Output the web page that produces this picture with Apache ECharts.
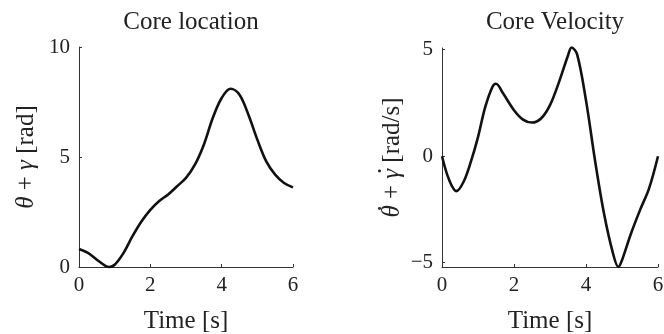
<!DOCTYPE html>
<html>
<head>
<meta charset="utf-8">
<script src="https://cdn.jsdelivr.net/npm/echarts@6/dist/echarts.min.js"></script>
<style>
    html, body { margin: 0; padding: 0; background: #fff; }
    #chart { width: 664px; height: 334px; }
</style>
</head>
<body>
<div id="chart"></div>
<script>
// core location, theta + gamma [rad]
var locTime  = [0, 0.25, 0.5, 0.75, 0.85, 1.0, 1.25, 1.5, 1.75, 2.0, 2.25, 2.5, 2.75, 3.0, 3.25, 3.5, 3.75, 4.0, 4.25, 4.5, 4.75, 5.0, 5.25, 5.5, 5.75, 6.0];
var locValue = [0.82, 0.64, 0.33, 0.04, 0.0, 0.1, 0.64, 1.4, 2.07, 2.6, 3.0, 3.3, 3.67, 4.05, 4.65, 5.56, 6.77, 7.68, 8.1, 7.83, 6.92, 5.79, 4.8, 4.2, 3.82, 3.62];

// core velocity, theta dot + gamma dot [rad/s]
var velTime  = [0, 0.2, 0.4, 0.6, 0.8, 1.0, 1.2, 1.4, 1.5, 1.7, 2.0, 2.25, 2.5, 2.75, 3.0, 3.25, 3.5, 3.6, 3.75, 4.0, 4.25, 4.5, 4.75, 4.9, 5.0, 5.25, 5.5, 5.75, 6.0];
var velValue = [0, -1.12, -1.64, -1.2, -0.27, 0.9, 2.3, 3.25, 3.4, 2.94, 2.16, 1.72, 1.58, 1.77, 2.4, 3.48, 4.73, 5.1, 4.8, 2.62, -0.19, -2.69, -4.56, -5.2, -4.88, -3.63, -2.53, -1.52, 0];

var xTicks = [0, 2, 4, 6];
var locTicks = [0, 5, 10];
var velTicks = [-5, 0, 5];

function pairs(xs, ys) {
    return xs.map(function (x, i) { return [x, ys[i]]; });
}

var font = '"Liberation Serif", "DejaVu Serif", serif';
var ink = '#222';
var nameSize = 25;

// measure pieces of the velocity label so the dots sit over theta and gamma
var ctx = document.createElement('canvas').getContext('2d');
function textW(s, italic) {
    ctx.font = (italic ? 'italic ' : '') + nameSize + 'px ' + font;
    return ctx.measureText(s).width;
}
var wTheta = textW('θ', true);
var wGamma = textW('γ', true);
var wPlus = textW(' + ', false);
var wTail = textW(' [rad/s]', false);

function xAxisOf(idx) {
    return {
        type: 'value', gridIndex: idx, min: 0, max: 6, interval: 2,
        name: 'Time [s]', nameLocation: 'middle', nameGap: 42,
        nameTextStyle: { fontFamily: font, fontSize: nameSize, color: ink },
        axisLine: { onZero: false, lineStyle: { color: '#333', width: 1 } },
        axisTick: { inside: true, length: 3, customValues: xTicks, lineStyle: { color: '#333' } },
        axisLabel: { fontFamily: font, fontSize: 21, color: ink, margin: 8, customValues: xTicks },
        splitLine: { show: false }
    };
}

var myChart = echarts.init(document.getElementById('chart'));

var option = {
    animation: false,
    backgroundColor: '#fff',
    title: [
        { text: 'Core location', left: 186, top: 5, textAlign: 'center',
          textStyle: { fontFamily: font, fontSize: nameSize, fontWeight: 'normal', color: ink } },
        { text: 'Core Velocity', left: 550, top: 5, textAlign: 'center',
          textStyle: { fontFamily: font, fontSize: nameSize, fontWeight: 'normal', color: ink } }
    ],
    grid: [
        { left: 79, right: 371, top: 47, bottom: 67, outerBoundsMode: 'none' },
        { left: 442, right: 6, top: 48, bottom: 67, outerBoundsMode: 'none' }
    ],
    xAxis: [xAxisOf(0), xAxisOf(1)],
    yAxis: [
        {
            type: 'value', gridIndex: 0, min: 0, max: 10, interval: 5,
            name: '{i|θ} + {i|γ} [rad]', nameLocation: 'middle', nameGap: 40, nameRotate: 90,
            nameTextStyle: { fontFamily: font, fontSize: nameSize, color: ink,
                rich: { i: { fontFamily: font, fontStyle: 'italic', fontSize: nameSize, color: ink } } },
            axisLine: { show: true, lineStyle: { color: '#333', width: 1 } },
            axisTick: { show: true, inside: true, length: 3, customValues: locTicks, lineStyle: { color: '#333' } },
            axisLabel: { fontFamily: font, fontSize: 21, color: ink, margin: 9, customValues: locTicks },
            splitLine: { show: false }
        },
        {
            type: 'value', gridIndex: 1, min: -5.2, max: 5.08,
            name: '{dt|.}{sp| }{dg|.}{tl| }\n{i|θ}{n| + }{i|γ}{n| [rad/s]}',
            nameLocation: 'middle', nameGap: 36, nameRotate: 90,
            nameTextStyle: { fontFamily: font, fontSize: nameSize, color: ink,
                rich: {
                    dt: { fontFamily: font, fontSize: nameSize, color: ink, width: wTheta, align: 'center', lineHeight: 8, padding: [0, 0, 0, 3] },
                    sp: { fontFamily: font, fontSize: nameSize, width: wPlus - 3, lineHeight: 8 },
                    dg: { fontFamily: font, fontSize: nameSize, color: ink, width: wGamma, align: 'center', lineHeight: 8, padding: [0, 0, 0, 3] },
                    tl: { fontFamily: font, fontSize: nameSize, width: wTail - 3, lineHeight: 8 },
                    i: { fontFamily: font, fontStyle: 'italic', fontSize: nameSize, color: ink, lineHeight: 28 },
                    n: { fontFamily: font, fontSize: nameSize, color: ink, lineHeight: 28 }
                } },
            axisLine: { show: true, lineStyle: { color: '#333', width: 1 } },
            axisTick: { show: true, inside: true, length: 3, customValues: velTicks, lineStyle: { color: '#333' } },
            axisLabel: { fontFamily: font, fontSize: 21, color: ink, margin: 9, customValues: velTicks,
                formatter: function (v) { return String(v).replace('-', '\u2212'); } },
            splitLine: { show: false }
        }
    ],
    series: [
        {
            type: 'line', xAxisIndex: 0, yAxisIndex: 0,
            data: pairs(locTime, locValue),
            smooth: 0.35, showSymbol: false, clip: false,
            lineStyle: { color: '#111', width: 2.6 }
        },
        {
            type: 'line', xAxisIndex: 1, yAxisIndex: 1,
            data: pairs(velTime, velValue),
            smooth: 0.35, showSymbol: false, clip: false,
            lineStyle: { color: '#111', width: 2.6 }
        }
    ]
};

myChart.setOption(option);
</script>
</body>
</html>
